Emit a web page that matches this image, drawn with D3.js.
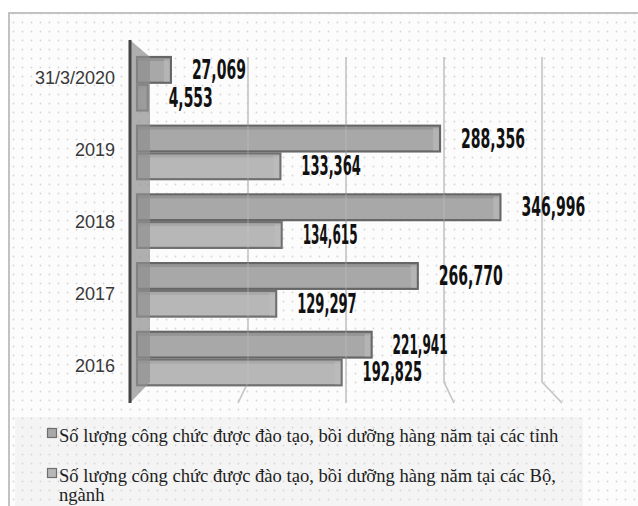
<!DOCTYPE html>
<html><head><meta charset="utf-8">
<script src="https://cdn.jsdelivr.net/npm/d3@7"></script>
<style>body{margin:0;background:#fff}svg{display:block}</style>
</head><body>
<svg id="c" width="638" height="506"></svg>
<script>
// ---- data ----
const categories = ["31/3/2020", "2019", "2018", "2017", "2016"];
const seriesNames = [
  "Số lượng công chức được đào tạo, bồi dưỡng hàng năm tại các tỉnh",
  "Số lượng công chức được đào tạo, bồi dưỡng hàng năm tại các Bộ, ngành"
];
const tinhValues = [27069, 288356, 346996, 266770, 221941];
const boNganhValues = [4553, 133364, 134615, 129297, 192825];
const gridTicks = [0, 100000, 200000, 300000, 400000];

const seriesColors = ["#a8a8a8", "#b7b7b7"];
const seriesStroke = ["#666666", "#707070"];

const svg = d3.select("#c");
const defs = svg.append("defs");
const pat = defs.append("pattern").attr("id", "dots").attr("patternUnits", "userSpaceOnUse")
  .attr("width", 9).attr("height", 9);
pat.append("rect").attr("width", 9).attr("height", 9).attr("fill", "#fcfcfc");
pat.append("circle").attr("cx", 4.5).attr("cy", 4.5).attr("r", 0.9).attr("fill", "#d6d6d6");
const pat2 = defs.append("pattern").attr("id", "dots2").attr("patternUnits", "userSpaceOnUse")
  .attr("width", 9).attr("height", 9);
pat2.append("rect").attr("width", 9).attr("height", 9).attr("fill", "#f4f4f4");
pat2.append("circle").attr("cx", 4.5).attr("cy", 4.5).attr("r", 0.9).attr("fill", "#d8d8d8");

// frame
svg.append("rect").attr("x", 9).attr("y", 13).attr("width", 640).attr("height", 500)
  .attr("fill", "url(#dots)").attr("stroke", "#c2c2c2").attr("stroke-width", 2);
// legend box
svg.append("rect").attr("x", 15).attr("y", 417).attr("width", 568).attr("height", 100)
  .attr("fill", "url(#dots2)");

// ---- scales ----
const planeTop = {back: 57, front: 40};
const planeBottom = {back: 382, front: 403};
const xBar = d3.scaleLinear().domain([0, 400000]).range([143, 555]);
const xBack = d3.scaleLinear().domain([0, 400000]).range([150, 542]);
const xFront = d3.scaleLinear().domain([0, 400000]).range([130, 562]);
const yBand = d3.scaleBand().domain(categories).range([49.4, 392.9])
  .paddingInner(0.192).paddingOuter(0.096);
const ySeries = d3.scaleBand().domain([0, 1]).range([0, yBand.bandwidth()]);
const yLabel = d3.scalePoint().domain(categories).range([78, 365.5]);

// ---- gridlines (back wall + floor) ----
function drawGrid(g, opacity) {
  gridTicks.filter(t => t > 0).forEach(t => {
    g.append("path")
      .attr("d", d3.line()([[xBack(t), planeTop.back], [xBack(t), planeBottom.back], [xFront(t), planeBottom.front]]))
      .attr("fill", "none").attr("stroke", "#c6c6c6").attr("stroke-width", 1.6)
      .attr("opacity", opacity);
  });
}
drawGrid(svg.append("g"), 1);

// ---- bars ----
const rows = [];
categories.forEach((c, i) => {
  rows.push({cat: c, s: 0, v: tinhValues[i]});
  rows.push({cat: c, s: 1, v: boNganhValues[i]});
});
const barG = svg.append("g");
rows.forEach(d => {
  const y = yBand(d.cat) + ySeries(d.s);
  const h = ySeries.bandwidth();
  const x0 = xBar(0) - 6, x1 = xBar(d.v);
  const g = barG.append("g");
  g.append("rect").attr("x", x0).attr("y", y + 1).attr("width", x1 - x0).attr("height", h - 2)
    .attr("fill", seriesColors[d.s]).attr("stroke", seriesStroke[d.s]).attr("stroke-width", 2.2);
  // top face shading
  g.append("rect").attr("x", x0 + 1).attr("y", y + 2).attr("width", Math.max(0, x1 - x0 - 2)).attr("height", 3)
    .attr("fill", "#888888").attr("opacity", d.s === 0 ? 0.6 : 0.3);
  // end cap
  const cx = Math.max(x0 + 1, x1 - 7);
  g.append("rect").attr("x", cx).attr("y", y + 3).attr("width", Math.max(0, Math.min(6, x1 - x0 - 2))).attr("height", h - 5)
    .attr("fill", "#c0c0c0").attr("opacity", 0.5);
});
drawGrid(svg.append("g"), 0.3);

// ---- side wall ----
svg.append("path")
  .attr("d", d3.line()([[xFront(0), planeTop.front], [xBack(0), planeTop.back], [xBack(0), planeBottom.back], [xFront(0), planeBottom.front]]) + "Z")
  .attr("fill", "#8e8e8e").attr("opacity", 0.7);
svg.append("line").attr("x1", xFront(0)).attr("x2", xFront(0))
  .attr("y1", planeTop.front).attr("y2", planeBottom.front)
  .attr("stroke", "#444444").attr("stroke-width", 3);

// ---- value labels ----
function labelWidth(s) {
  let w = 0;
  for (const ch of s) w += ch === "," ? 4 : (ch === "1" ? 5.5 : 10);
  return w;
}
rows.forEach(d => {
  const txt = d3.format(",")(d.v);
  const y = yBand(d.cat) + ySeries(d.s) + ySeries.bandwidth() / 2 + 9;
  svg.append("text").attr("x", xBar(d.v) + 21).attr("y", y)
    .attr("font-family", "'Liberation Sans Narrow','DejaVu Sans Condensed','Roboto',sans-serif")
    .attr("font-weight", "bold").attr("font-size", 26).attr("fill", "#111111")
    .attr("textLength", labelWidth(txt)).attr("lengthAdjust", "spacingAndGlyphs")
    .text(txt);
});

// ---- category labels ----
svg.append("g").selectAll("text").data(categories).join("text")
  .attr("x", 115).attr("y", d => yLabel(d) + 6)
  .attr("text-anchor", "end")
  .attr("font-family", "'Liberation Sans',Arial,sans-serif").attr("font-size", 18)
  .attr("fill", "#383838").text(d => d);

// ---- legend ----
const legendY = [442, 482];
const maxW = 520;
seriesNames.forEach((name, i) => {
  svg.append("rect").attr("x", 47.5).attr("y", legendY[i] - 13.5).attr("width", 9).attr("height", 9)
    .attr("fill", seriesColors[i]).attr("stroke", "#6e6e6e").attr("stroke-width", 1.2);
  const t = svg.append("text").attr("x", 59).attr("y", legendY[i])
    .attr("font-family", "'Liberation Serif','Times New Roman',serif").attr("font-size", 18.6)
    .attr("fill", "#1e1e1e");
  const words = name.split(" ");
  let line = [];
  let ts = t.append("tspan").attr("x", 59).attr("dy", 0);
  words.forEach(w => {
    line.push(w);
    ts.text(line.join(" "));
    if (ts.node().getComputedTextLength() > maxW && line.length > 1) {
      line.pop();
      ts.text(line.join(" "));
      line = [w];
      ts = t.append("tspan").attr("x", 59).attr("dy", 19).text(w);
    }
  });
});
</script>
</body></html>
